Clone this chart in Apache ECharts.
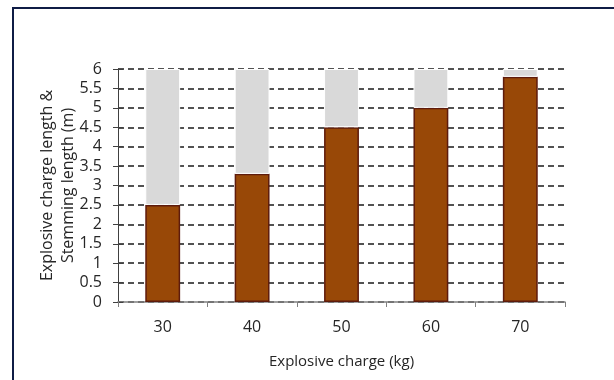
<!DOCTYPE html>
<html>
<head>
<meta charset="utf-8">
<style>
  html, body { margin: 0; padding: 0; background: #ffffff; }
  #chart { width: 614px; height: 380px; }
</style>
<script src="https://cdn.jsdelivr.net/npm/echarts@6/dist/echarts.min.js"></script>
</head>
<body>
<div id="chart"></div>
<script>
// Explosive charge per hole (kg)
const categories = ['30', '40', '50', '60', '70'];
// Length of the column occupied by explosive (m)
const chargeLength = [2.5, 3.3, 4.5, 5.0, 5.8];
// Stemming length above the charge (m)
const stemmingLength = [3.5, 2.7, 1.5, 1.0, 0.2];

const yMin = 0, yMax = 6, yStep = 0.5;
const font = '"Open Sans", "Noto Sans", sans-serif';

const chart = echarts.init(document.getElementById('chart'), null, { renderer: 'canvas' });

const yBase = {
  type: 'value',
  min: yMin,
  max: yMax,
  interval: yStep,
  axisLine: { show: true, lineStyle: { color: '#404040', width: 1 } },
  axisTick: { show: true, length: 5, lineStyle: { color: '#404040', width: 1 } }
};

chart.setOption({
  backgroundColor: '#ffffff',
  animation: false,
  graphic: [{
    type: 'rect',
    shape: { x: 13, y: 8, width: 640, height: 420 },
    style: { fill: 'none', stroke: '#0f1c45', lineWidth: 2 },
    silent: true
  }],
  grid: { left: 118, right: 49, top: 69, bottom: 78 },
  xAxis: {
    type: 'category',
    data: categories,
    name: 'Explosive charge (kg)',
    nameLocation: 'middle',
    nameGap: 52,
    nameMoveOverlap: false,
    nameTextStyle: { fontFamily: font, fontSize: 15, color: '#262626' },
    axisLine: { lineStyle: { color: '#808080', width: 1.5 } },
    axisTick: { show: true, length: 5, alignWithLabel: false, lineStyle: { color: '#808080' } },
    axisLabel: { margin: 17, fontFamily: font, fontSize: 16, color: '#262626' },
    splitLine: { show: false }
  },
  yAxis: [
    Object.assign({}, yBase, {
      name: 'Explosive charge length &\nStemming length (m)',
      nameLocation: 'middle',
      nameRotate: 90,
      nameGap: 39,
      nameMoveOverlap: false,
      nameTextStyle: { fontFamily: font, fontSize: 16, color: '#262626', lineHeight: 21 },
      axisLabel: { margin: 16, fontFamily: font, fontSize: 16, color: '#262626' },
      splitLine: { show: true, lineStyle: { color: '#1a1a1a', width: 1.5, type: [6, 4] } }
    }),
    // inward half of the crossing ticks on the value axis
    Object.assign({}, yBase, {
      position: 'left',
      axisTick: { show: true, inside: true, length: 5, lineStyle: { color: '#404040', width: 1 } },
      axisLabel: { show: false },
      splitLine: { show: false }
    })
  ],
  series: [
    {
      name: 'Explosive charge length',
      type: 'bar',
      stack: 'hole',
      data: chargeLength,
      barWidth: '39%',
      itemStyle: { color: '#984807', borderColor: '#5e1b0c', borderWidth: 1.5 }
    },
    {
      name: 'Stemming length',
      type: 'bar',
      stack: 'hole',
      data: stemmingLength,
      barWidth: '39%',
      itemStyle: { color: '#d9d9d9', borderColor: '#ffffff', borderWidth: 1 }
    }
  ]
});
</script>
</body>
</html>
